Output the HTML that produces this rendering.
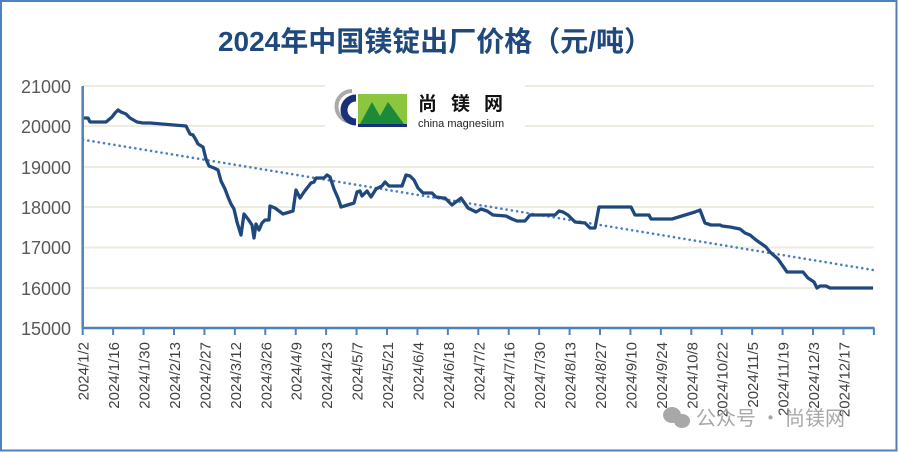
<!DOCTYPE html>
<html><head><meta charset="utf-8"><style>
body{margin:0;background:#fff}
svg{display:block}
</style></head><body>
<svg width="898" height="452" viewBox="0 0 898 452" xmlns="http://www.w3.org/2000/svg" font-family="Liberation Sans, Noto Sans CJK SC, sans-serif">
<rect x="1" y="1" width="895.5" height="449.5" fill="#fff" stroke="#4f81bd" stroke-width="2"/>
<text x="435" y="51" text-anchor="middle" font-size="28" font-weight="bold" fill="#1f497d" font-family="Liberation Sans, Noto Sans CJK SC, sans-serif">2024年中国镁锭出厂价格（元/吨）</text>
<g stroke="#eeebe0" stroke-width="2">
<line x1="83" y1="86" x2="874" y2="86"/><line x1="83" y1="126" x2="874" y2="126"/><line x1="83" y1="167" x2="874" y2="167"/><line x1="83" y1="207" x2="874" y2="207"/><line x1="83" y1="247.5" x2="874" y2="247.5"/><line x1="83" y1="288" x2="874" y2="288"/>
</g>
<g font-size="18" fill="#595959" text-anchor="end">
<text x="71" y="93">21000</text><text x="71" y="133">20000</text><text x="71" y="174">19000</text><text x="71" y="214">18000</text><text x="71" y="254">17000</text><text x="71" y="295">16000</text><text x="71" y="335">15000</text>
</g>
<rect x="325" y="80" width="200" height="52" fill="#fff"/>
<path d="M352 91 A15 15 0 1 0 352 122" fill="none" stroke="#aaa" stroke-width="4"/>
<path d="M356 98 A11 11 0 1 0 356 122" fill="none" stroke="#1a2f7a" stroke-width="7"/>
<rect x="358" y="94" width="49" height="32" fill="#8cc63f"/>
<polygon points="360,124 372,102 380,116 388,102 404,124" fill="#1d8a3a"/>
<rect x="358" y="124" width="49" height="3" fill="#1a2f7a"/>
<text x="418" y="110" font-size="19" font-weight="bold" fill="#111" letter-spacing="14">尚镁网</text>
<text x="418" y="127" font-size="11" fill="#222">china magnesium</text>
<line x1="83" y1="139.7" x2="873" y2="270" stroke="#4a7ec4" stroke-width="2.6" stroke-dasharray="0.1 5.2" stroke-linecap="round"/>
<polyline fill="none" stroke="#1f497d" stroke-width="3.3" stroke-linejoin="round" points="83,118 88,118 90,122 106,122 112,117 115,113 118,110 121,112 126,114 130,118 137,122 143,123 150,123 186,126 190,134 193,135 196,140 198,144 203,147 206,159 209,166 214,168 218,170 221,181 225,189 228,197 231,204 234,209 237,222 241,235 244,214 248,219 252,225 254,238 256,224 259,230 262,223 265,220 269,220 270,206 275,208 283,214 293,211 296,190 300,198 304,192 311,183 314,182 316,178 324,178 327,175 330,177 334,189 338,198 341,207 354,203 357,192 360,191 362,196 367,191 371,197 376,189 382,186 385,182 389,186 402,186 406,175 410,176 414,180 418,188 423,193 432,193 436,197 443,198 445,198 452,205 461,198 468,208 476,212 481,209 487,211 493,215 506,216 512,219 517,221 525,221 530,215 555,215 559,211 563,212 568,215 575,222 585,223 590,228 595,228 599,207 631,207 635,215 649,215 651,219 672,219 695,212 700,210 705,223 711,225 720,225 722,226 730,227 740,229 745,233 750,235 756,240 766,247 770,252 778,259 787,272 803,272 808,278 814,282 817,288 820,286 826,286 830,288 873,288"/>
<g stroke="#4f81bd" stroke-width="2.5" fill="none">
<line x1="82.7" y1="86" x2="82.7" y2="329"/>
<line x1="82" y1="328" x2="874.5" y2="328"/>
</g>
<g stroke="#4f81bd" stroke-width="2" id="ticks"></g>
<g id="labels" font-size="15" fill="#404040"></g>
<g fill="#9a9a9a" opacity="0.85">
<ellipse cx="672" cy="415" rx="9" ry="8"/><ellipse cx="682" cy="421" rx="8" ry="7"/>
<text x="696" y="425" font-size="20" font-family="Noto Sans CJK SC, sans-serif">公众号 · 尚镁网</text>
</g>
<script>
var dates=["2024/1/2","2024/1/16","2024/1/30","2024/2/13","2024/2/27","2024/3/12","2024/3/26","2024/4/9","2024/4/23","2024/5/7","2024/5/21","2024/6/4","2024/6/18","2024/7/2","2024/7/16","2024/7/30","2024/8/13","2024/8/27","2024/9/10","2024/9/24","2024/10/8","2024/10/22","2024/11/5","2024/11/19","2024/12/3","2024/12/17"];
var ns="http://www.w3.org/2000/svg",t=document.getElementById("ticks"),l=document.getElementById("labels");
for(var i=0;i<=26;i++){var x=82.7+i*30.43;var ln=document.createElementNS(ns,"line");ln.setAttribute("x1",x);ln.setAttribute("x2",x);ln.setAttribute("y1",328);ln.setAttribute("y2",335);t.appendChild(ln);
if(i<26){var tx=document.createElementNS(ns,"text");tx.setAttribute("transform","translate("+(x+6)+",342) rotate(-90)");tx.setAttribute("text-anchor","end");tx.textContent=dates[i];l.appendChild(tx);}}
</script>
</svg>
</body></html>
